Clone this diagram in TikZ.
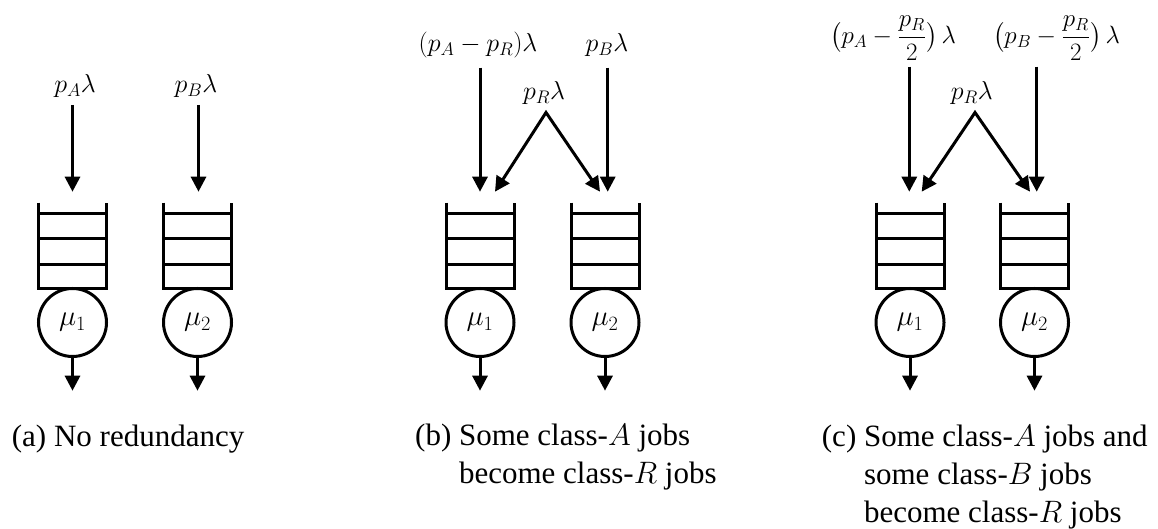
\RequirePackage{fix-cm}
\documentclass[tikz,border=0pt]{standalone}
\usepackage{amsmath}
\usepackage{fontspec}
\setmainfont{Liberation Serif}
\usetikzlibrary{arrows.meta}
\newcommand{\queuebox}[3]{%
  \draw[qline,line join=miter] ({#1-34},202.7) -- ({#1-34},288.5) -- ({#1+34},288.5) -- ({#1+34},202.7);
  \foreach \yy in {213.3,239,264.5} \draw[qline] ({#1-34},\yy) -- ({#1+34},\yy);
  \node[server] (#2) at (#1,322.5) {$#3$};
  \coordinate (#2out) at (#1,390.7);
  \draw[arr] (#2) -- (#2out);
}
\begin{document}
\begin{tikzpicture}[x=1pt,y=-1pt,
  qline/.style={line width=3pt},
  qtip/.tip={Triangle[length=15pt,width=15pt]},
  arr/.style={line width=3pt,-qtip},
  darr/.style={line width=3pt,qtip-qtip,line join=miter},
  server/.style={circle,draw,line width=3pt,minimum size=68pt,inner sep=0pt,font=\fontsize{29}{34}\selectfont},
  lab/.style={inner sep=0pt,font=\fontsize{26}{30}\selectfont},
  fraclab/.style={inner sep=0pt,font=\fontsize{25}{28}\selectfont},
  captxt/.style={inner sep=0pt,anchor=base west,font=\fontsize{31}{38}\selectfont}]
\useasboundingbox (0,0) rectangle (1158,529);

% ---------- (a)
\queuebox{72.5}{a1}{\mu_1}
\queuebox{197.5}{a2}{\mu_2}
\node[lab,anchor=base] (la1) at (75,92.5) {$p_A\lambda$};
\node[lab,anchor=base] (la2) at (196,92.5) {$p_B\lambda$};
\coordinate (sa1) at (72.5,105);
\coordinate (ta1) at (72.5,191.7);
\coordinate (sa2) at (198.5,105);
\coordinate (ta2) at (198.5,191.7);
\draw[arr] (sa1) -- (ta1);
\draw[arr] (sa2) -- (ta2);

% ---------- (b)
\queuebox{480}{b1}{\mu_1}
\queuebox{605}{b2}{\mu_2}
\node[lab,anchor=base] (lb1) at (478,51.7) {$(p_A-p_R)\lambda$};
\node[lab,anchor=base] (lb2) at (607,51.7) {$p_B\lambda$};
\node[lab,anchor=base] (lbr) at (544,100) {$p_R\lambda$};
\coordinate (sb1) at (480,67.7);
\coordinate (tb1) at (480,191.7);
\coordinate (sb2) at (607.7,67.7);
\coordinate (tb2) at (607.7,191.7);
\coordinate (bapex) at (546,112.5);
\coordinate (bl) at (495,191.7);
\coordinate (br) at (600,191.7);
\draw[arr] (sb1) -- (tb1);
\draw[arr] (sb2) -- (tb2);
\draw[darr] (bl) -- (bapex) -- (br);

% ---------- (c)
\queuebox{910}{c1}{\mu_1}
\queuebox{1034.5}{c2}{\mu_2}
\node[fraclab] (lc1) at (893,38.5) {$\displaystyle\bigl(p_A-\frac{p_R}{2}\bigr)\,\lambda$};
\node[fraclab] (lc2) at (1056.5,38.5) {$\displaystyle\bigl(p_B-\frac{p_R}{2}\bigr)\,\lambda$};
\node[lab,anchor=base] (lcr) at (971.7,99.5) {$p_R\lambda$};
\coordinate (sc1) at (909.3,66.7);
\coordinate (tc1) at (909.3,191.7);
\coordinate (sc2) at (1036.7,66.7);
\coordinate (tc2) at (1036.7,191.7);
\coordinate (capex) at (975,112.5);
\coordinate (cl) at (921.7,191.7);
\coordinate (cr) at (1030,191.7);
\draw[arr] (sc1) -- (tc1);
\draw[arr] (sc2) -- (tc2);
\draw[darr] (cl) -- (capex) -- (cr);

% ---------- captions
\node[captxt] (capa) at (11.7,446.7) {(a) No redundancy};
\node[captxt] (capb) at (415,445) {\begin{tabular}[t]{@{}l@{ }l@{}}(b) & Some class-$A$ jobs\\ & become class-$R$ jobs\end{tabular}};
\node[captxt] (capc) at (821.7,446) {\begin{tabular}[t]{@{}l@{ }l@{}}(c) & Some class-$A$ jobs and\\ & some class-$B$ jobs\\ & become class-$R$ jobs\end{tabular}};
\end{tikzpicture}
\end{document}
